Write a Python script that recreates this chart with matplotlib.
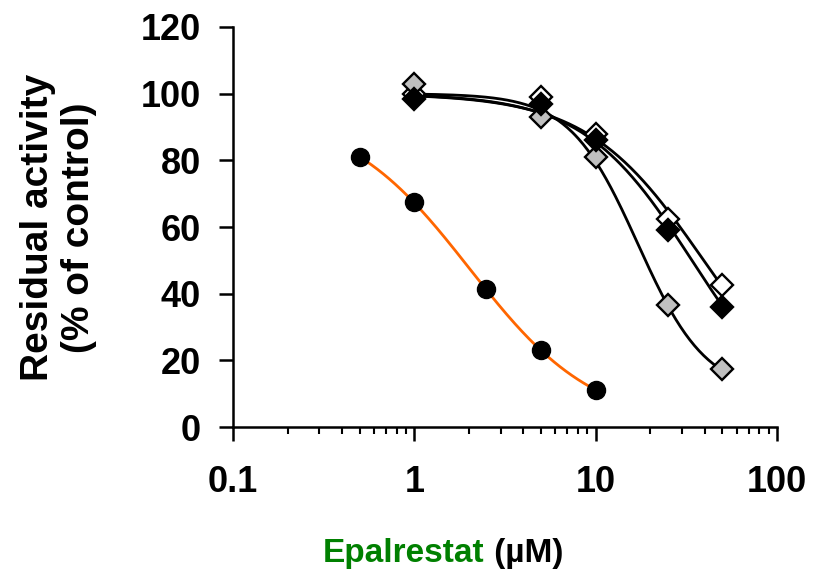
import numpy as np
import matplotlib
matplotlib.use('Agg')
import matplotlib.pyplot as plt
from matplotlib.ticker import LogLocator, FixedLocator, NullFormatter

plt.rcParams['font.family'] = ['Liberation Sans', 'DejaVu Sans']
plt.rcParams['font.weight'] = 'bold'

# concentrations (uM) and residual activity (% of control)
conc_circle = [0.5, 1, 2.5, 5, 10]
act_circle = [81, 67.5, 41.5, 23, 11]

conc_diamond = [1, 5, 10, 25, 50]
act_white = [100, 99, 88, 62.5, 42.5]
act_black = [98.5, 97, 86, 59, 36]
act_gray = [103, 93, 81, 36.5, 17.5]

# dose-response fit parameters: top, bottom, IC50, hill
fit_circle = (95, 0, 2.02, 1.26)
fit_white = (100, 0, 39.5, 1.35)
fit_black = (100, 0, 34.0, 1.45)
fit_gray = (100, 10, 17.1, 2.3)

y_ticks = [0, 20, 40, 60, 80, 100, 120]
x_ticks = [0.1, 1, 10, 100]
x_labels = ['0.1', '1', '10', '100']


def logistic(x, p):
    top, bottom, ic50, hill = p
    return bottom + (top - bottom) / (1 + (x / ic50) ** hill)


fig = plt.figure(figsize=(8.16, 5.74), dpi=100)
ax = fig.add_axes([0.2855, 0.256, 0.9520 - 0.2855, 0.953 - 0.256])

def fit_line(xs, p, color):
    xx = np.logspace(np.log10(xs[0]), np.log10(xs[-1]), 200)
    ax.plot(xx, logistic(xx, p), color=color, lw=2.0, zorder=2)

fit_line(conc_circle, fit_circle, '#ff6600')
fit_line(conc_diamond, fit_white, 'black')
fit_line(conc_diamond, fit_black, 'black')
fit_line(conc_diamond, fit_gray, 'black')

ax.plot(conc_circle, act_circle, 'o', ms=13, mfc='black', mec='black', zorder=3)
ax.plot(conc_diamond, act_white, 'D', ms=11.5, mfc='white', mec='black', mew=1.7, zorder=3)
ax.plot(conc_diamond, act_black, 'D', ms=11.5, mfc='black', mec='black', mew=1.7, zorder=4)
ax.plot(conc_diamond, act_gray, 'D', ms=11.5, mfc='#c0c0c0', mec='black', mew=1.7, zorder=3)

ax.set_xscale('log')
ax.set_xlim(0.1, 100)
ax.set_ylim(0, 120)
ax.spines['top'].set_visible(False)
ax.spines['right'].set_visible(False)
ax.spines['left'].set_linewidth(1.8)
ax.spines['bottom'].set_linewidth(1.8)

ax.xaxis.set_major_locator(FixedLocator(x_ticks))
ax.set_xticklabels(x_labels)
ax.xaxis.set_minor_locator(LogLocator(base=10, subs=np.arange(2, 10)))
ax.xaxis.set_minor_formatter(NullFormatter())
ax.set_yticks(y_ticks)

ax.tick_params(axis='x', which='major', direction='out', length=10, width=1.8,
               pad=17, labelsize=26)
ax.tick_params(axis='x', which='minor', direction='out', length=5, width=1.5)
ax.tick_params(axis='y', which='major', direction='out', length=10, width=1.8,
               pad=13, labelsize=26)
for lab in ax.get_xticklabels() + ax.get_yticklabels():
    lab.set_fontweight('bold')

fig.text(0.0717, 0.604, 'Residual activity\n(% of control)', rotation=90,
         ha='center', va='center', fontsize=28, fontweight='bold',
         linespacing=1.2, multialignment='center')

t1 = fig.text(0.396, 0.021, 'Epalrestat', color='#008000', fontsize=24,
              fontweight='bold', ha='left', va='baseline')
ax.annotate(' (µM)', xy=(1, 0), xycoords=t1, ha='left', va='bottom',
            fontsize=24, fontweight='bold', color='black', annotation_clip=False)

fig.savefig('out.png', dpi=100)
